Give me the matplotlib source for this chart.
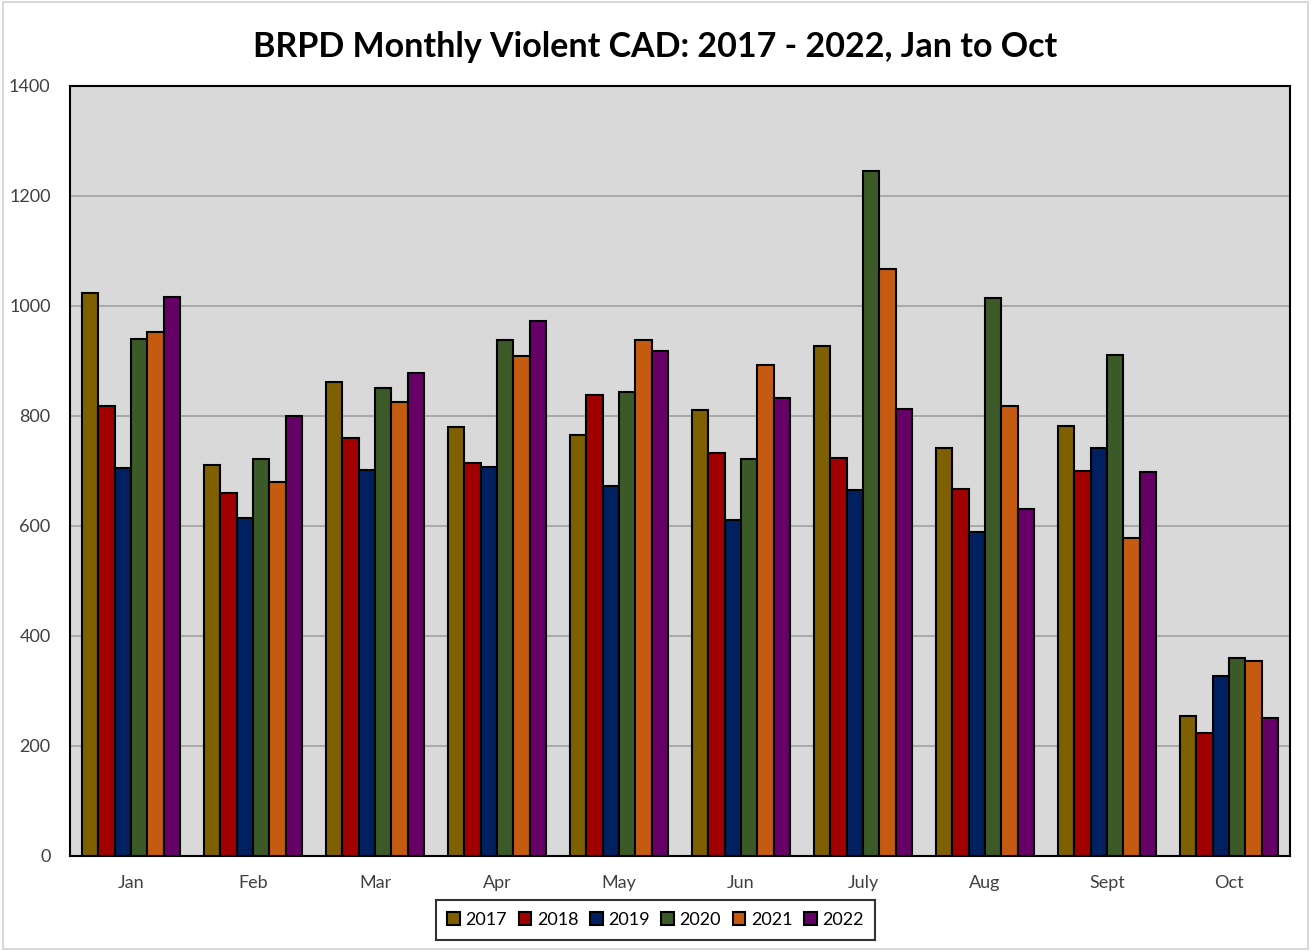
import matplotlib.pyplot as plt
import numpy as np
from matplotlib.patches import Rectangle

months = ["Jan", "Feb", "Mar", "Apr", "May", "Jun", "July", "Aug", "Sept", "Oct"]
years = ["2017", "2018", "2019", "2020", "2021", "2022"]

v2017 = [1024, 710, 862, 779, 766, 811, 928, 742, 782, 255]
v2018 = [818, 660, 760, 714, 838, 732, 724, 667, 700, 223]
v2019 = [705, 614, 702, 707, 672, 610, 665, 589, 741, 327]
v2020 = [940, 722, 851, 938, 844, 722, 1245, 1015, 910, 360]
v2021 = [953, 680, 826, 909, 938, 893, 1068, 818, 578, 354]
v2022 = [1017, 800, 878, 973, 918, 832, 813, 630, 698, 250]
series = [v2017, v2018, v2019, v2020, v2021, v2022]

colors = ["#7F6000", "#A00000", "#002060", "#3B5A27", "#C55A11", "#660066"]

plt.rcParams['font.family'] = ['Lato', 'DejaVu Sans']

fig = plt.figure(figsize=(13.11, 9.51), dpi=100)
ax = fig.add_axes([0.0534, 0.1, 0.9306, 0.8096])

x = np.arange(len(months))
w = 0.8 / len(years)
for i, (vals, c, yr) in enumerate(zip(series, colors, years)):
    ax.bar(x - 0.4 + w * (i + 0.5), vals, w, color=c, edgecolor="black",
           linewidth=1.5, label=yr, zorder=3)

ax.set_facecolor("#D9D9D9")
ax.set_xlim(-0.5, len(months) - 0.5)
ax.set_ylim(0, 1400)
ax.set_yticks(range(0, 1401, 200))
ax.set_xticks(x)
ax.set_xticklabels(months)
ax.yaxis.grid(True, color="#A6A6A6", linewidth=1.3, zorder=0)
ax.tick_params(length=0, labelsize=13, colors="#404040")
ax.tick_params(axis="x", pad=14)
ax.tick_params(axis="y", pad=14)
for s in ax.spines.values():
    s.set_linewidth(1.5)
    s.set_color("black")

fig.suptitle("BRPD Monthly Violent CAD: 2017 - 2022, Jan to Oct",
             fontsize=24.5, fontweight="bold", y=0.967)

leg = fig.legend(loc="center", bbox_to_anchor=(0.5, 0.0325), ncol=6,
                 fontsize=13, frameon=True, fancybox=False, edgecolor="black",
                 handlelength=0.7, handleheight=0.7, handletextpad=0.3,
                 columnspacing=0.65, borderpad=0.65)
leg.get_frame().set_linewidth(1.5)

fig.patches.append(Rectangle((0.002, 0.002), 0.996, 0.996, transform=fig.transFigure,
                             fill=False, edgecolor="#D9D9D9", linewidth=1.5))

fig.savefig("out.png", dpi=100)
